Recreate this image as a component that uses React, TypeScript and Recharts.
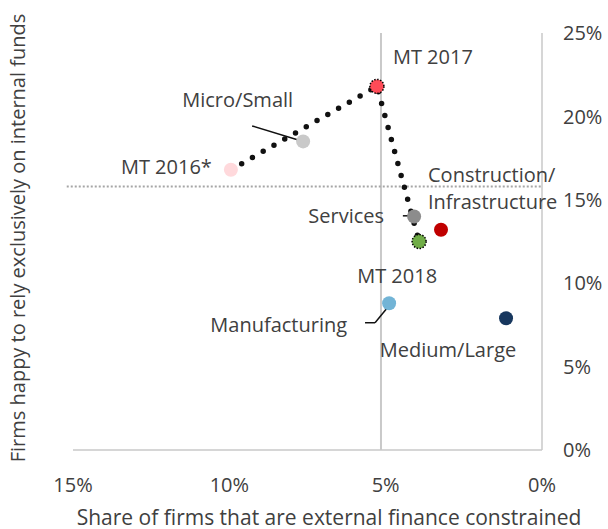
import React from "react";
import { ScatterChart, Scatter, XAxis, YAxis, ReferenceLine } from "recharts";

// chart values
const names = [
  "MT 2016*",
  "Micro/Small",
  "MT 2017",
  "Services",
  "MT 2018",
  "Construction/\nInfrastructure",
  "Manufacturing",
  "Medium/Large",
];
const constrained = [9.95, 7.64, 5.28, 4.09, 3.93, 3.23, 4.89, 1.15];
const internalOnly = [16.8, 18.5, 21.8, 14.0, 12.5, 13.2, 8.8, 7.9];
const trendNames = ["MT 2016*", "MT 2017", "MT 2018"];
const xTicks = [0, 5, 10, 15];
const yTicks = [0, 5, 10, 15, 20, 25];
const avgConstrained = 5.15;
const avgInternal = 15.8;
// label leader lines, in data units [x, y]
const leaders = [
  [[9.27, 19.43], [7.64, 18.5]],
  [[4.45, 14.04], [4.13, 14.04]],
  [[5.66, 7.63], [5.34, 7.63]],
  [[5.34, 7.63], [4.92, 8.59]],
];

const FONT = "'Open Sans', 'Noto Sans', sans-serif";
const TEXT = "#404040";
const GRID = "#C9C9C9";
const FS = 20;

const pointStyle: Record<
  string,
  { fill: string; dotted?: boolean; dx: number; dy: number; anchor: "start" | "middle" | "end" }
> = {
  "MT 2016*": { fill: "#FFD9DC", dx: -19, dy: -3, anchor: "end" },
  "Micro/Small": { fill: "#C9C9C9", dx: -10, dy: -41, anchor: "end" },
  "MT 2017": { fill: "#FF4B57", dotted: true, dx: 16, dy: -29, anchor: "start" },
  Services: { fill: "#8C8C8C", dx: -30, dy: 0, anchor: "end" },
  "MT 2018": { fill: "#70AD47", dotted: true, dx: -22, dy: 34, anchor: "middle" },
  "Construction/\nInfrastructure": { fill: "#C00000", dx: -13, dy: -55, anchor: "start" },
  Manufacturing: { fill: "#72B4D6", dx: -42, dy: 22, anchor: "end" },
  "Medium/Large": { fill: "#17375E", dx: -58, dy: 32, anchor: "middle" },
};

const points = names.map((name, i) => ({ name, x: constrained[i], y: internalOnly[i] }));
const trend = trendNames.map((n) => points.find((p) => p.name === n)!);

function PointShape(props: any) {
  const { cx, cy, payload } = props;
  const s = pointStyle[payload.name];
  const lines = payload.name.split("\n");
  return (
    <g>
      <circle
        cx={cx}
        cy={cy}
        r={7}
        fill={s.fill}
        stroke={s.dotted ? "#000" : "none"}
        strokeWidth={1.5}
        strokeDasharray={s.dotted ? "1.5 1.5" : undefined}
      />
      <text
        x={cx + s.dx}
        y={cy + s.dy}
        textAnchor={s.anchor}
        fill={TEXT}
        fontSize={FS}
        fontFamily={FONT}
      >
        {lines.map((l: string, i: number) => (
          <tspan key={i} x={cx + s.dx} dy={i === 0 ? "0.35em" : "1.38em"}>
            {l}
          </tspan>
        ))}
      </text>
    </g>
  );
}

export default function App() {
  return (
    <div style={{ position: "absolute", left: 0, top: 0, width: 608, height: 529, background: "#fff", overflow: "hidden" }}>
      <ScatterChart width={608} height={529} margin={{ top: 33, right: 0, left: 73, bottom: 0 }}>
        <XAxis
          type="number"
          dataKey="x"
          domain={[0, 15]}
          reversed
          ticks={xTicks}
          tickFormatter={(v) => `${v}%`}
          tickLine={false}
          tickSize={0}
          tickMargin={28}
          height={79}
          axisLine={{ stroke: GRID, strokeWidth: 1.5 }}
          tick={{ fill: TEXT, fontSize: FS, fontFamily: FONT }}
        />
        <YAxis
          type="number"
          dataKey="y"
          orientation="right"
          domain={[0, 25]}
          ticks={yTicks}
          tickFormatter={(v) => `${v}%`}
          tickLine={false}
          tickSize={0}
          tickMargin={21}
          width={66}
          axisLine={{ stroke: GRID, strokeWidth: 1.5 }}
          tick={{ fill: TEXT, fontSize: FS, fontFamily: FONT, textAnchor: "start" }}
        />
        <ReferenceLine x={avgConstrained} stroke={GRID} strokeWidth={2} />
        <ReferenceLine
          segment={[
            { x: 15.2, y: avgInternal },
            { x: 0, y: avgInternal },
          ]}
          ifOverflow="visible"
          stroke="#A6A6A6"
          strokeWidth={2}
          strokeDasharray="2 2"
        />
        <Scatter
          data={trend}
          line={{ stroke: "#111", strokeWidth: 5.5, strokeDasharray: "0 12.4", strokeLinecap: "round" }}
          shape={() => <g />}
          isAnimationActive={false}
        />
        <Scatter data={points} shape={PointShape} isAnimationActive={false} />
        {leaders.map((seg, i) => (
          <ReferenceLine
            key={i}
            segment={[
              { x: seg[0][0], y: seg[0][1] },
              { x: seg[1][0], y: seg[1][1] },
            ]}
            stroke="#111"
            strokeWidth={1.5}
          />
        ))}
      </ScatterChart>
      <div
        style={{
          position: "absolute",
          left: 329,
          top: 517,
          transform: "translate(-50%, -50%)",
          whiteSpace: "nowrap",
          fontFamily: FONT,
          fontSize: 21,
          lineHeight: 1,
          color: TEXT,
        }}
      >
        Share of firms that are external finance constrained
      </div>
      <div
        style={{
          position: "absolute",
          left: 18,
          top: 238,
          transform: "translate(-50%, -50%) rotate(-90deg)",
          whiteSpace: "nowrap",
          fontFamily: FONT,
          fontSize: FS,
          lineHeight: 1,
          color: TEXT,
        }}
      >
        Firms happy to rely exclusively on internal funds
      </div>
    </div>
  );
}
